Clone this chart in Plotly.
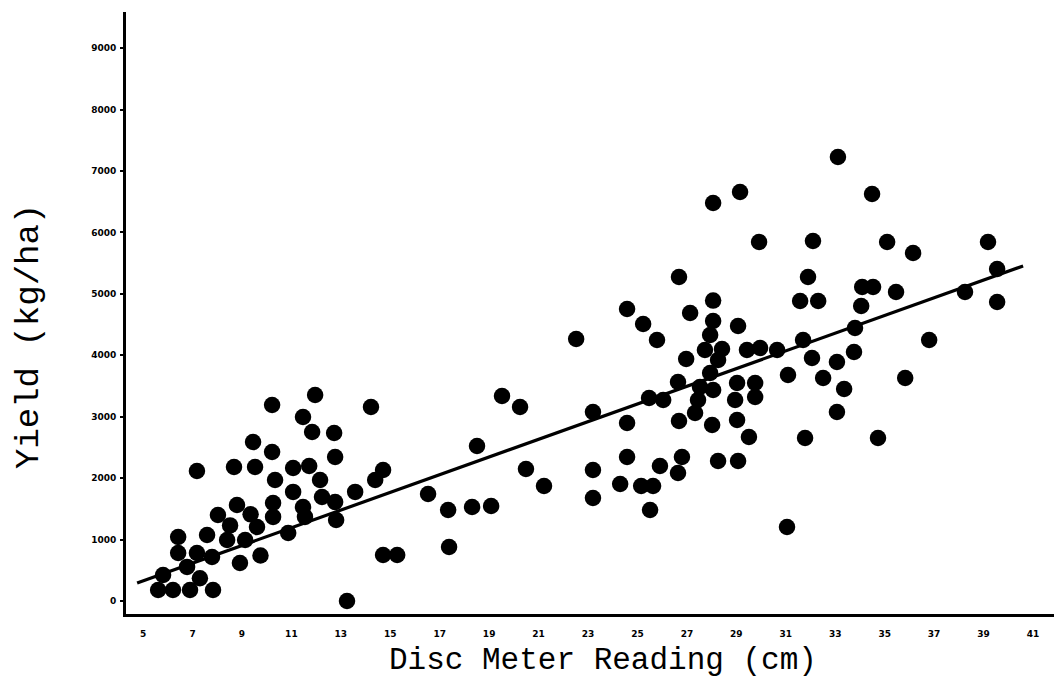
import plotly.graph_objects as go

# Disc meter reading (cm) and yield (kg/ha)
disc_cm = [
    5.61, 6.21, 6.90, 7.83, 5.81, 6.42, 7.18, 7.79, 6.42, 7.59, 6.78, 7.30, 7.18, 8.03,
    8.52, 8.40, 8.80, 9.13, 8.92, 8.68, 9.53, 9.45, 9.35, 9.61, 9.75,
    10.22, 11.96, 14.22, 11.47, 11.84, 12.73, 10.22, 12.77, 10.34, 11.07, 11.72, 12.16,
    14.71, 14.39, 11.07, 13.58, 10.26, 11.47, 12.77, 12.81, 11.55, 10.87, 10.26, 14.71,
    15.28, 13.25, 12.24,
    16.53, 17.34, 17.38, 18.31, 19.08, 18.51, 19.52, 20.25, 20.49, 21.22, 22.52, 23.20,
    23.20, 23.20, 24.30, 24.58, 24.58, 24.58, 25.15, 25.63, 25.51, 25.47, 26.04, 25.91,
    25.23, 25.79,
    27.13, 28.06, 28.06, 29.07, 27.94, 27.73, 28.42, 26.97, 28.26, 29.43, 29.96, 30.65,
    27.94, 26.64, 27.53, 28.06, 29.03, 29.76, 27.45, 27.33, 28.95, 29.76, 26.68, 28.02,
    29.03, 29.51, 26.80, 26.64, 28.26, 29.07, 26.68, 28.06, 29.15, 29.92, 31.05,
    31.70, 32.10, 31.90, 31.58, 32.31, 31.09, 32.06, 33.07, 33.76, 32.51, 33.36, 33.07,
    31.78, 34.73, 33.11, 34.49, 35.10, 36.15, 34.09, 34.53, 35.46, 34.05, 33.80, 36.80,
    35.83, 38.25, 39.18, 39.55, 39.55,
]
yield_kg_ha = [
    179, 179, 179, 179, 423, 781, 781, 716, 1042, 1074, 554, 370, 2116, 1400,
    1230, 993, 1563, 993, 619, 2182, 2182, 2589, 1410, 1205, 740,
    3191, 3354, 3158, 2995, 2751, 2735, 2426, 2344, 1970, 2165, 2198, 1970,
    2133, 1970, 1775, 1775, 1595, 1530, 1612, 1319, 1368, 1107, 1368, 749,
    749, 0, 1693,
    1742, 1481, 879, 1530, 1547, 2523, 3337, 3158, 2149, 1872, 4265, 3077,
    2133, 1677, 1905, 2898, 2344, 4754, 1872, 1872, 1481, 3305, 3272, 2198,
    4510, 4249,
    4689, 4890, 4558, 4477, 4330, 4086, 4103, 3940, 3924, 4086, 4119, 4086,
    3712, 3565, 3484, 3435, 3549, 3549, 3272, 3061, 3272, 3321, 2930, 2865,
    2947, 2670, 2344, 2084, 2279, 2279, 5275, 6479, 6658, 5845, 1205,
    4249, 5861, 5275, 4884, 4884, 3679, 3956, 3891, 4054, 3630, 3451, 3077,
    2654, 2654, 7228, 6626, 5845, 5665, 5112, 5112, 5031, 4803, 4444, 4249,
    3630, 5031, 5845, 5405, 4868,
]

# Fitted regression line (end points of the drawn line)
fit_x = [4.76, 40.60]
fit_y = [293, 5454]

x_ticks = list(range(5, 42, 2))
y_ticks = list(range(0, 9001, 1000))

fig = go.Figure()
fig.add_trace(go.Scatter(
    x=fit_x, y=fit_y, mode="lines",
    line=dict(color="black", width=3.2), hoverinfo="skip",
))
fig.add_trace(go.Scatter(
    x=disc_cm, y=yield_kg_ha, mode="markers",
    marker=dict(color="black", size=16.5, line=dict(width=0)),
))

tick_font = dict(family="DejaVu Sans", size=9, color="black", weight="bold")

fig.update_xaxes(
    range=[4.31, 41.85], tickvals=x_ticks, ticktext=[str(v) for v in x_ticks],
    showgrid=False, zeroline=False, showline=True, linewidth=3, linecolor="black",
    ticks="", tickfont=tick_font, ticklabelstandoff=9,
)
fig.update_yaxes(
    range=[-212, 9589], tickvals=y_ticks, ticktext=[str(v) for v in y_ticks],
    showgrid=False, zeroline=False, showline=True, linewidth=3, linecolor="black",
    ticks="outside", ticklen=3, tickwidth=1.5, tickcolor="black",
    tickfont=tick_font, ticklabelstandoff=2,
)

fig.add_annotation(
    text="Disc Meter Reading (cm)", xref="paper", yref="paper",
    x=(603 - 126) / 928, y=-(660 - 614) / 602, xanchor="center", yanchor="middle",
    showarrow=False, font=dict(family="Liberation Mono", size=31, color="black"),
)
fig.add_annotation(
    text="Yield (kg/ha)", xref="paper", yref="paper",
    x=-(126 - 29) / 928, y=(614 - 337) / 602, xanchor="center", yanchor="middle",
    textangle=-90, showarrow=False,
    font=dict(family="Liberation Mono", size=34, color="black"),
)

fig.update_layout(
    width=1054, height=686,
    margin=dict(l=126, r=0, t=12, b=72),
    paper_bgcolor="white", plot_bgcolor="white",
    showlegend=False,
)

fig.write_html("out.html")
